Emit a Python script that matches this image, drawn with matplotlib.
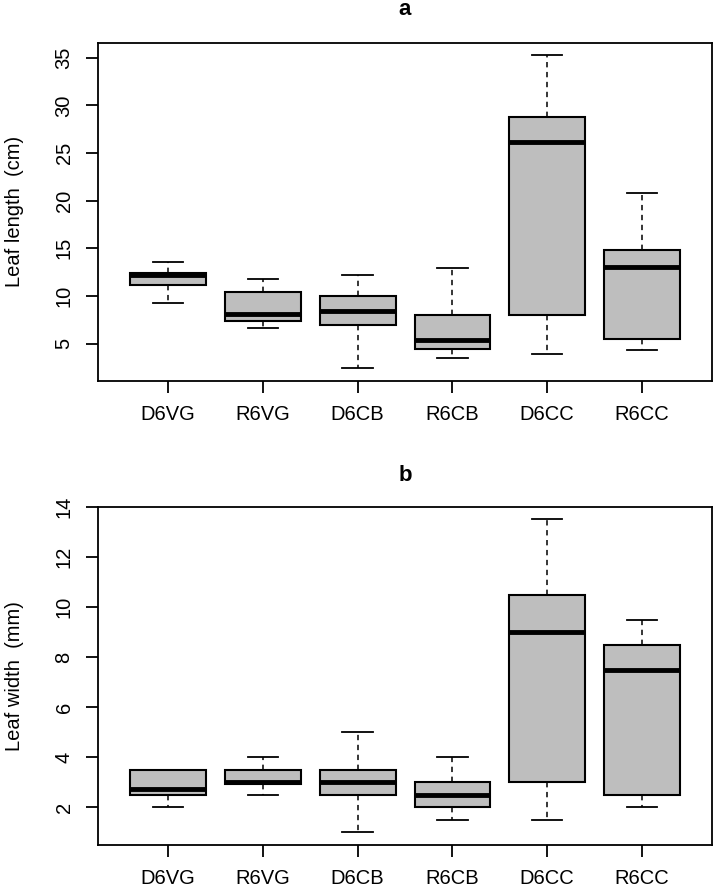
import numpy as np
import matplotlib
matplotlib.use("Agg")
import matplotlib.pyplot as plt

plt.rcParams['font.family'] = ['Liberation Sans', 'DejaVu Sans']

groups = ["D6VG", "R6VG", "D6CB", "R6CB", "D6CC", "R6CC"]

# leaf length (cm): lower whisker, Q1, median, Q3, upper whisker
len_lo  = [9.3, 6.6, 2.4, 3.45, 3.9, 4.3]
len_q1  = [11.15, 7.4, 6.9, 4.4, 8.0, 5.5]
len_med = [12.25, 8.1, 8.4, 5.4, 26.2, 13.0]
len_q3  = [12.45, 10.4, 10.0, 8.0, 28.8, 14.8]
len_hi  = [13.55, 11.8, 12.2, 12.9, 35.25, 20.8]

# leaf width (mm)
wid_lo  = [2.0, 2.5, 1.0, 1.5, 1.5, 2.0]
wid_q1  = [2.5, 2.95, 2.5, 2.0, 3.0, 2.5]
wid_med = [2.75, 3.0, 3.0, 2.5, 9.0, 7.5]
wid_q3  = [3.5, 3.5, 3.5, 3.0, 10.5, 8.5]
wid_hi  = [3.5, 4.0, 5.0, 4.0, 13.5, 9.5]


def make_stats(lo, q1, med, q3, hi):
    stats = []
    for i in range(len(groups)):
        stats.append({"whislo": lo[i], "q1": q1[i], "med": med[i],
                      "q3": q3[i], "whishi": hi[i], "fliers": []})
    return stats


def draw_panel(ax, stats, ylabel, title, yticks, title_pad):
    ax.bxp(stats, positions=np.arange(1, 7), widths=0.8, capwidths=0.32,
           patch_artist=True, showfliers=False,
           boxprops=dict(facecolor="#bebebe", edgecolor="black", linewidth=1.5),
           medianprops=dict(color="black", linewidth=3.5, solid_capstyle="butt"),
           whiskerprops=dict(color="black", linewidth=1.1, linestyle=(0, (3.5, 3))),
           capprops=dict(color="black", linewidth=1.3))
    lo = min(s["whislo"] for s in stats)
    hi = max(s["whishi"] for s in stats)
    r = hi - lo
    ax.set_ylim(lo - 0.04 * r, hi + 0.04 * r)
    ax.set_xlim(0.26, 6.74)
    ax.set_xticks(np.arange(1, 7))
    ax.set_xticklabels(groups)
    ax.set_yticks(yticks)
    ax.set_yticklabels([str(t) for t in yticks], rotation=90, va="center")
    ax.tick_params(axis="both", length=8.6, width=1.3, labelsize=14.5)
    ax.tick_params(axis="x", pad=9)
    ax.tick_params(axis="y", pad=9)
    for sp in ax.spines.values():
        sp.set_linewidth(1.3)
    ax.set_ylabel(ylabel, fontsize=14.5)
    ax.yaxis.set_label_coords(-0.12, 0.5)
    ax.set_title(title, fontsize=16, fontweight="bold", pad=title_pad)


fig = plt.figure(figsize=(7.15, 8.94), dpi=100)
ax1 = fig.add_axes([0.137, 0.574, 0.859, 0.378])
ax2 = fig.add_axes([0.137, 0.055, 0.859, 0.378])

draw_panel(ax1, make_stats(len_lo, len_q1, len_med, len_q3, len_hi),
           "Leaf length  (cm)", "a", [5, 10, 15, 20, 25, 30, 35], 20)
draw_panel(ax2, make_stats(wid_lo, wid_q1, wid_med, wid_q3, wid_hi),
           "Leaf width  (mm)", "b", [2, 4, 6, 8, 10, 12, 14], 19)

fig.savefig("out.png", dpi=100)
